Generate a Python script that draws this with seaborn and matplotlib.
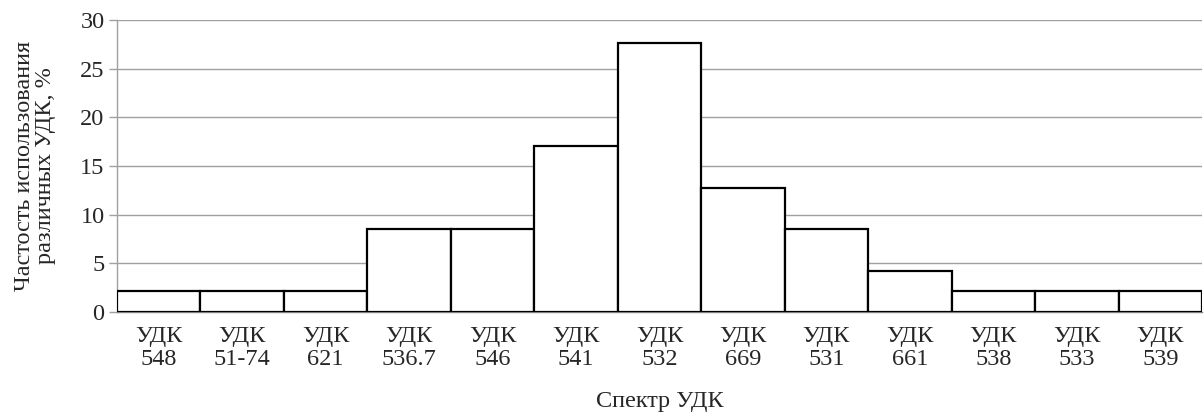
import matplotlib
matplotlib.use("Agg")
import matplotlib.pyplot as plt
import seaborn as sns
import pandas as pd
import numpy as np

categories = ["УДК\n548", "УДК\n51-74", "УДК\n621", "УДК\n536.7", "УДК\n546", "УДК\n541",
              "УДК\n532", "УДК\n669", "УДК\n531", "УДК\n661", "УДК\n538", "УДК\n533", "УДК\n539"]
values = [2.13, 2.13, 2.13, 8.51, 8.51, 17.02, 27.66, 12.77, 8.51, 4.26, 2.13, 2.13, 2.13]
y_ticks = [0, 5, 10, 15, 20, 25, 30]

sns.set_theme(style="white")
plt.rcParams['font.family'] = ['Liberation Serif', 'DejaVu Serif']

df = pd.DataFrame({"cat": categories, "val": values})

fig = plt.figure(figsize=(12.04, 4.12), dpi=100)
ax = fig.add_axes([117/1204, 1 - 312/412, (1202-117)/1204, (312-20)/412])

sns.barplot(data=df, x="cat", y="val", ax=ax, color="white", edgecolor="black",
            linewidth=1.6, width=1.0, saturation=1, zorder=3)

n = len(categories)
ax.set_xlim(-0.5, n - 0.5)
ax.set_ylim(0, 30)
ax.set_yticks(y_ticks)
ax.yaxis.grid(True, color="#a0a0a0", linewidth=1.0, zorder=0)
ax.set_axisbelow(True)

for s in ["top", "right"]:
    ax.spines[s].set_visible(False)
ax.spines["left"].set_color("#a0a0a0")
ax.spines["bottom"].set_color("#808080")
ax.spines["left"].set_linewidth(1.0)
ax.spines["bottom"].set_linewidth(1.0)

fs = 17.5
ax.set_xticks(np.arange(n))
ax.set_xticklabels(categories, fontsize=fs, linespacing=1.12)
ax.set_xticks(np.arange(-0.5, n, 1.0), minor=True)
ax.tick_params(axis="x", which="major", length=0, pad=10)
ax.tick_params(axis="x", which="minor", length=6, color="#a0a0a0", width=1.0, direction="out")
ax.tick_params(axis="y", which="major", length=6, color="#a0a0a0", width=1.0, direction="out",
               labelsize=fs, pad=3, left=True)

ax.set_xlabel("Спектр УДК", fontsize=fs, labelpad=15)
ax.set_ylabel("Частость использования\nразличных УДК, %", fontsize=fs, labelpad=17, linespacing=1.05)

fig.savefig("out.png", dpi=100)
